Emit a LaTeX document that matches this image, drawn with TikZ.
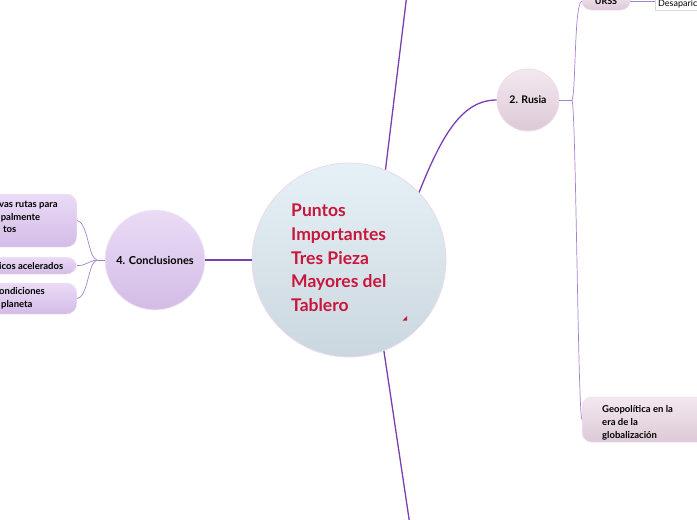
\documentclass[tikz,border=0pt]{standalone}
\usepackage{fontspec}
\setmainfont{Lato}
\definecolor{mainline}{HTML}{7A3FAE}
\definecolor{thinline}{HTML}{A683CC}
\definecolor{redtxt}{HTML}{C8163C}
\definecolor{ctop}{HTML}{E6F1F7}
\definecolor{cbot}{HTML}{CBD7DE}
\definecolor{ltop}{HTML}{EADBF6}
\definecolor{lbot}{HTML}{D3BCE6}
\definecolor{ptop}{HTML}{F4E8F0}
\definecolor{pbot}{HTML}{DCCAD6}
\tikzset{
  mainconn/.style={draw=mainline, line width=1.3pt},
  thinconn/.style={draw=thinline, line width=0.7pt},
  centralnode/.style={circle, minimum size=194pt, inner sep=0pt, draw=violet!15, line width=0.8pt, top color=ctop, bottom color=cbot},
  concl/.style={circle, minimum size=100pt, inner sep=0pt, draw=violet!8, line width=0.8pt, top color=ltop, bottom color=lbot, font=\bfseries\fontsize{11}{13}\selectfont},
  rusianode/.style={circle, minimum size=62pt, inner sep=0pt, draw=violet!15, line width=0.8pt, top color=ptop, bottom color=pbot, font=\bfseries\fontsize{10.5}{12}\selectfont},
  lbox/.style={rectangle, rounded corners=10pt, inner sep=0pt, draw=violet!10, line width=0.5pt, top color=ltop, bottom color=lbot},
  pbox/.style={rectangle, rounded corners=9pt, inner sep=0pt, draw=violet!12, line width=0.5pt, top color=ptop, bottom color=pbot},
  btxt/.style={inner sep=0pt, anchor=west, font=\bfseries\fontsize{9.5}{13}\selectfont, align=left},
}
\begin{document}
\begin{tikzpicture}[x=1pt,y=-1pt]
\useasboundingbox (0,0) rectangle (697,520);
\clip (0,0) rectangle (697,520);
% nodes
\node[centralnode] (c) at (349,260) {};
\node[concl] (k) at (155,260) {4. Conclusiones};
\node[rusianode] (r) at (528,100) {2. Rusia};
% central text
\node[inner sep=0pt, anchor=north west, align=left, text=redtxt, font=\bfseries\fontsize{17.5}{23.6}\selectfont] (ct) at (291,204) {Puntos\\Importantes\\Tres Pieza\\Mayores del\\Tablero};
\fill[redtxt] (402.5,320.5) -- (407,320.5) -- (407,316) -- cycle;
% free ends
\coordinate (topend) at (406.5,-2);
\coordinate (botend) at (409.5,522);
\coordinate (jr) at (572,100);
\coordinate (jk) at (97,260);
% main connectors
\draw[mainconn] (c.68) -- (topend);
\draw[mainconn] (c.-69) -- (botend);
\draw[mainconn] (c.44) .. controls (442,135) and (462,100) .. (r.west);
\draw[mainconn] (k.east) -- (c.west);
% right side boxes
\node[pbox, minimum width=48pt, minimum height=18pt] (u) at (606,1) {};
\node[inner sep=0pt, font=\bfseries\fontsize{9}{10}\selectfont] (ut) at (606,1.5) {URSS};
\node[rectangle, draw=black!15, fill=white, minimum width=60pt, minimum height=18pt, anchor=west, inner sep=0pt] (d) at (655,1) {};
\node[inner sep=0pt, anchor=west, font=\fontsize{9}{10}\selectfont] (dt) at (658,3.5) {Desaparición};
\node[pbox, minimum width=130pt, minimum height=45pt, anchor=west] (g) at (582,419.5) {};
\node[btxt] (gt) at (602,423) {Geopolítica en la\\era de la\\globalización};
\draw[thinconn] (r.east) -- (jr);
\draw[thinconn] (jr) .. controls (576,92) and (574,4) .. (u.west);
\draw[thinconn] (jr) .. controls (576,110) and (578,419) .. (g.west);
\draw[thinconn] (u.east) -- (u.east -| d.west);
% left boxes
\node[lbox, minimum width=120pt, minimum height=53pt, anchor=east] (b1) at (77,220.5) {};
\node[lbox, minimum width=120pt, minimum height=17pt, anchor=east] (b2) at (77,265.5) {};
\node[lbox, minimum width=120pt, minimum height=31pt, anchor=east] (b3) at (77,298.5) {};
\node[btxt] (t1) at (-1,217) {vas rutas para\\[-0.5pt]\,palmente\\[-0.5pt]\hspace{4pt}tos};
\node[btxt] (t2) at (-1,266) {icos acelerados};
\node[btxt] (t3) at (-1,298.5) {ondiciones\\[-0.5pt]\hspace{2pt}planeta};
\draw[thinconn] (k.west) -- (jk);
\draw[thinconn] (jk) .. controls (88,258) and (88,222) .. (b1.east);
\draw[thinconn] (jk) .. controls (88,261) and (86,266) .. (b2.east);
\draw[thinconn] (jk) .. controls (88,262) and (88,298) .. (b3.east);
\end{tikzpicture}
\end{document}
